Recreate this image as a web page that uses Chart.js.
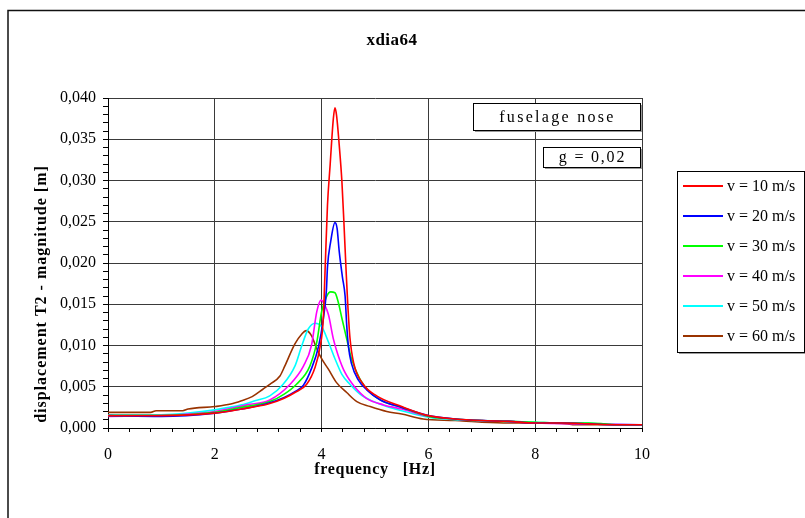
<!DOCTYPE html>
<html><head><meta charset="utf-8">
<script src="https://cdn.jsdelivr.net/npm/chart.js@4/dist/chart.umd.min.js"></script>
<style>html,body{margin:0;padding:0;background:#fff}#wrap{width:805px;height:518px;position:relative}</style>
</head><body><div id="wrap"><canvas id="c" width="805" height="518"></canvas></div>
<script>
const chartTitle = 'xdia64';
const xTitle = 'frequency   [Hz]';
const yTitle = 'displacement T2 - magnitude [m]';
const noteLabels = ['fuselage nose', 'g = 0,02'];
const seriesLabels = ['v = 10 m/s', 'v = 20 m/s', 'v = 30 m/s', 'v = 40 m/s', 'v = 50 m/s', 'v = 60 m/s'];
const seriesColors = ['#FF0000', '#0000FF', '#00FF00', '#FF00FF', '#00FFFF', '#993300'];

const freq10 = [0, 1, 2, 2.5, 3, 3.3, 3.5, 3.72, 3.88, 3.97, 4.03, 4.07, 4.11, 4.16, 4.22, 4.25, 4.28, 4.33, 4.38, 4.42, 4.46, 4.49, 4.53, 4.6, 4.78, 5.03, 5.5, 6, 6.5, 7, 7.5, 8, 8.5, 9, 9.5, 10];
const disp10 = [0.0015, 0.0015, 0.0018, 0.0023, 0.0029, 0.0036, 0.0043, 0.0053, 0.0074, 0.0098, 0.0131, 0.0200, 0.0270, 0.0319, 0.0375, 0.0388, 0.0379, 0.0343, 0.0299, 0.0246, 0.0189, 0.0150, 0.0110, 0.0079, 0.0053, 0.0039, 0.0026, 0.0015, 0.0011, 0.0009, 0.0008, 0.0006, 0.0006, 0.0005, 0.0004, 0.0004];

const freq20 = [0, 1, 2, 2.5, 3, 3.3, 3.5, 3.66, 3.81, 3.94, 4.03, 4.09, 4.11, 4.17, 4.25, 4.29, 4.33, 4.39, 4.44, 4.47, 4.5, 4.56, 4.69, 4.85, 5.1, 5.5, 6, 6.5, 7, 7.5, 8, 8.5, 9, 9.5, 10];
const disp20 = [0.0015, 0.0014, 0.0018, 0.0023, 0.0030, 0.0037, 0.0044, 0.0052, 0.0072, 0.0098, 0.0131, 0.0167, 0.0195, 0.0226, 0.0249, 0.0242, 0.0214, 0.0183, 0.0160, 0.0125, 0.0100, 0.0078, 0.0058, 0.0046, 0.0034, 0.0025, 0.0015, 0.0011, 0.0009, 0.0008, 0.0006, 0.0006, 0.0005, 0.0004, 0.0004];

const freq30 = [0, 1, 2, 2.5, 3.03, 3.3, 3.53, 3.78, 3.91, 4.0, 4.09, 4.17, 4.25, 4.31, 4.38, 4.47, 4.56, 4.72, 4.91, 5.16, 5.5, 6, 6.5, 7, 7.5, 8, 8.5, 9, 9.3, 9.5, 10];
const disp30 = [0.0015, 0.0015, 0.0019, 0.0025, 0.0032, 0.0041, 0.0053, 0.0075, 0.0104, 0.0141, 0.0159, 0.0165, 0.0164, 0.0153, 0.0133, 0.0108, 0.0084, 0.0059, 0.0043, 0.0032, 0.0025, 0.0014, 0.0011, 0.0009, 0.0008, 0.0007, 0.0006, 0.0006, 0.0005, 0.0004, 0.0004];

const freq40 = [0, 1, 2, 2.6, 3.03, 3.41, 3.66, 3.81, 3.91, 3.99, 4.06, 4.13, 4.22, 4.31, 4.44, 4.63, 4.84, 5.16, 5.5, 6, 6.5, 7, 7.5, 8, 9, 10];
const disp40 = [0.0014, 0.0015, 0.0020, 0.0028, 0.0034, 0.0053, 0.0075, 0.0100, 0.0141, 0.0155, 0.0149, 0.0137, 0.0108, 0.0088, 0.0067, 0.0049, 0.0036, 0.0028, 0.0023, 0.0014, 0.0011, 0.0009, 0.0008, 0.0006, 0.0005, 0.0004];

const freq50 = [0, 1, 1.5, 2, 2.5, 2.75, 3.03, 3.28, 3.5, 3.63, 3.75, 3.88, 4.0, 4.13, 4.25, 4.38, 4.53, 4.72, 4.97, 5.22, 5.5, 6, 6.5, 7, 7.5, 8, 8.5, 9, 9.2, 10];
const disp50 = [0.0016, 0.0016, 0.0018, 0.0022, 0.0028, 0.0033, 0.0039, 0.0053, 0.0075, 0.0100, 0.0120, 0.0127, 0.0123, 0.0104, 0.0084, 0.0065, 0.0053, 0.0041, 0.0032, 0.0026, 0.0021, 0.0013, 0.0010, 0.0009, 0.0008, 0.0007, 0.0006, 0.0006, 0.0005, 0.0004];

const freq60 = [0, 0.8, 0.9, 1.4, 1.5, 2, 2.3, 2.5, 2.7, 2.9, 3.03, 3.22, 3.31, 3.5, 3.63, 3.71, 3.81, 3.91, 4.0, 4.13, 4.28, 4.47, 4.66, 4.91, 5.22, 5.5, 5.9, 6.5, 7, 7.5, 8, 8.6, 8.7, 10];
const disp60 = [0.0019, 0.0019, 0.0021, 0.0021, 0.0023, 0.0026, 0.0029, 0.0033, 0.0038, 0.0047, 0.0053, 0.0063, 0.0075, 0.0102, 0.0114, 0.0118, 0.0112, 0.0096, 0.0084, 0.0071, 0.0055, 0.0043, 0.0032, 0.0026, 0.0020, 0.0017, 0.0011, 0.0009, 0.0007, 0.0006, 0.0006, 0.0005, 0.0004, 0.0004];

const xMin = 0, xMax = 10, xMinorStep = 0.4, xMajorStep = 2;
const yMin = 0, yMax = 0.040, yMinorStep = 0.001, yMajorStep = 0.005;

const freqs = [freq10, freq20, freq30, freq40, freq50, freq60];
const disps = [disp10, disp20, disp30, disp40, disp50, disp60];

const datasets = seriesLabels.map((lab, i) => ({
  label: lab,
  data: freqs[i].map((f, j) => ({x: f, y: disps[i][j]})),
  borderColor: seriesColors[i],
  backgroundColor: seriesColors[i],
  borderWidth: 1.6,
  pointRadius: 0,
  fill: false,
  cubicInterpolationMode: 'monotone'
}));

function isMajor(v, step) { const r = v / step; return Math.abs(r - Math.round(r)) < 1e-6; }
function setLS(ctx, v) { if ('letterSpacing' in ctx) ctx.letterSpacing = v; }

const decor = {
  id: 'decor',
  afterDraw(chart) {
    const ctx = chart.ctx;
    ctx.save();
    // outer frame
    ctx.strokeStyle = '#111'; ctx.lineWidth = 1.5;
    ctx.beginPath(); ctx.moveTo(8, 530); ctx.lineTo(8, 10.5); ctx.lineTo(810, 10.5); ctx.stroke();
    ctx.fillStyle = '#000'; ctx.textAlign = 'center'; ctx.textBaseline = 'middle';
    // chart title
    ctx.font = 'bold 17px "Liberation Serif"'; setLS(ctx, '0.5px');
    ctx.fillText(chartTitle, 392, 41);
    // x axis title
    ctx.font = 'bold 16px "Liberation Serif"'; setLS(ctx, '0.7px');
    ctx.fillText(xTitle, 375, 470);
    // y axis title
    ctx.save();
    ctx.translate(42, 294); ctx.rotate(-Math.PI / 2);
    setLS(ctx, '1px');
    ctx.fillText(yTitle, 0, 0);
    ctx.restore();
    // note boxes
    const boxes = [[473, 103, 167, 27, noteLabels[0], '2.3px'], [543, 147, 97, 20, noteLabels[1], '1.8px']];
    ctx.font = '16px "Liberation Serif"';
    boxes.forEach(b => {
      ctx.fillStyle = '#9a9a9a'; ctx.fillRect(b[0] + 2, b[1] + 2, b[2], b[3]);
      ctx.fillStyle = '#fff'; ctx.fillRect(b[0], b[1], b[2], b[3]);
      ctx.strokeStyle = '#000'; ctx.lineWidth = 1; ctx.strokeRect(b[0] + 0.5, b[1] + 0.5, b[2], b[3]);
      ctx.fillStyle = '#000'; setLS(ctx, b[5]);
      ctx.fillText(b[4], b[0] + b[2] / 2 + 1, b[1] + b[3] / 2 + 1);
    });
    // legend
    setLS(ctx, '0px');
    const lx = 677, ly = 171, lw = 127, lh = 181;
    ctx.fillStyle = '#9a9a9a'; ctx.fillRect(lx + 2, ly + 2, lw, lh);
    ctx.fillStyle = '#fff'; ctx.fillRect(lx, ly, lw, lh);
    ctx.strokeStyle = '#000'; ctx.lineWidth = 1; ctx.strokeRect(lx + 0.5, ly + 0.5, lw, lh);
    ctx.textAlign = 'left'; ctx.font = '16px "Liberation Serif"';
    chart.data.datasets.forEach((ds, i) => {
      const yy = ly + 15 + i * 30;
      ctx.strokeStyle = ds.borderColor; ctx.lineWidth = 2;
      ctx.beginPath(); ctx.moveTo(683, yy); ctx.lineTo(723, yy); ctx.stroke();
      ctx.fillStyle = '#000';
      ctx.fillText(ds.label, 727, yy + 1);
    });
    ctx.restore();
  }
};

new Chart(document.getElementById('c'), {
  type: 'line',
  data: { datasets },
  plugins: [decor],
  options: {
    responsive: false,
    animation: false,
    events: [],
    layout: { padding: { top: 98, right: 163, left: 0, bottom: 0 } },
    plugins: { legend: { display: false }, title: { display: false }, tooltip: { enabled: false } },
    scales: {
      x: {
        type: 'linear', min: xMin, max: xMax,
        afterFit: s => { s.height = 90; },
        border: { display: true, color: '#000', width: 1 },
        grid: {
          color: c => (isMajor(c.tick.value, xMajorStep) ? '#3a3a3a' : 'rgba(0,0,0,0)'),
          lineWidth: 1, tickColor: '#000', tickLength: 4, drawTicks: true
        },
        ticks: {
          stepSize: xMinorStep, autoSkip: false, maxRotation: 0, padding: 13,
          color: '#000', font: { family: 'Liberation Serif', size: 16 },
          callback: v => (isMajor(v, xMajorStep) ? String(Math.round(v)) : '')
        }
      },
      y: {
        type: 'linear', min: yMin, max: yMax,
        afterFit: s => { s.width = 108; },
        border: { display: true, color: '#000', width: 1 },
        grid: {
          color: c => (isMajor(c.tick.value, yMajorStep) ? '#3a3a3a' : 'rgba(0,0,0,0)'),
          lineWidth: 1, tickColor: '#000', tickLength: 5, drawTicks: true
        },
        ticks: {
          stepSize: yMinorStep, autoSkip: false, padding: 7,
          color: '#000', font: { family: 'Liberation Serif', size: 16 },
          callback: v => (isMajor(v, yMajorStep) ? v.toFixed(3).replace('.', ',') : '')
        }
      }
    }
  }
});
</script>
</body></html>
